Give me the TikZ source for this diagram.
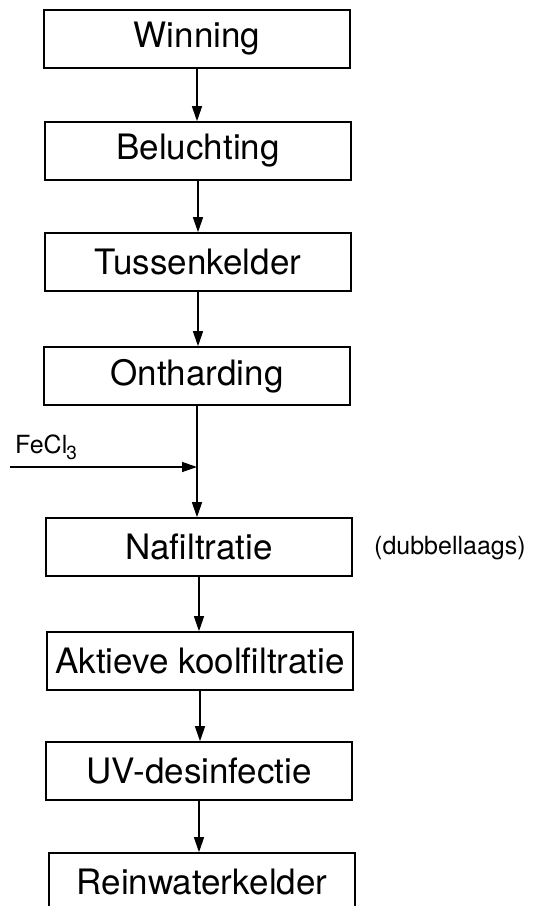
\documentclass[tikz,border=0pt]{standalone}
\usepackage{fontspec}
\setmainfont{TeX Gyre Heros}
\usetikzlibrary{arrows.meta}

\begin{document}
\begin{tikzpicture}[x=1pt,y=-1pt,
  stepbox/.style={draw, line width=1.6pt, minimum width=306pt, minimum height=58pt,
    inner sep=0pt, font=\fontsize{35}{35}\selectfont},
  flow/.style={line width=1.3pt, -{Triangle[length=15pt,width=10pt]}},
  note/.style={inner sep=0pt, font=\fontsize{25}{25}\selectfont}]
  \useasboundingbox (0,0) rectangle (533,906);
  \clip (0,0) rectangle (533,906);

  % treatment steps, top to bottom
  \node[stepbox] (win)  at (197,39)  {Winning};
  \node[stepbox] (bel)  at (198,151) {Beluchting};
  \node[stepbox] (tus)  at (198,262) {Tussenkelder};
  \node[stepbox] (ont)  at (197,376) {Ontharding};
  \node[stepbox] (naf)  at (199,547) {Nafiltratie};
  \node[stepbox] (akt)  at (200,661) {Aktieve koolfiltratie};
  \node[stepbox] (uv)   at (199,771) {UV-desinfectie};
  \node[stepbox] (rein) at (202,882) {Reinwaterkelder};

  % side notes
  \node[note, anchor=west] (dub) at (374,548) {(dubbellaags)};
  \node[note, anchor=base west] (fecl) at (15,453)
    {FeCl\kern-1pt\raisebox{-6pt}{\fontsize{19}{19}\selectfont 3}};

  % dosing point on the line between softening and post-filtration
  \coordinate (dose) at (ont.south |- 0,467);
  \coordinate (feed) at (10,467);

  % main flow, drawn straight down from each step
  \draw[flow] (win.south) -- (win.south |- bel.north);
  \draw[flow] (bel.south) -- (bel.south |- tus.north);
  \draw[flow] (tus.south) -- (tus.south |- ont.north);
  \draw[flow] (ont.south) -- (ont.south |- naf.north);
  \draw[flow] (naf.south) -- (naf.south |- akt.north);
  \draw[flow] (akt.south) -- (akt.south |- uv.north);
  \draw[flow] (uv.south)  -- (uv.south |- rein.north);

  % chemical dosing
  \draw[flow] (feed) -- (dose);
\end{tikzpicture}
\end{document}
